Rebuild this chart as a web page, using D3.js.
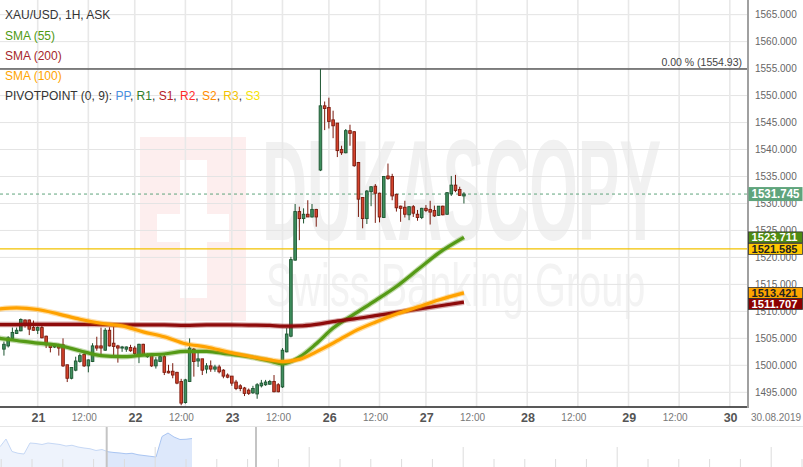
<!DOCTYPE html>
<html><head><meta charset="utf-8">
<script src="https://cdn.jsdelivr.net/npm/d3@7"></script>
<style>
html,body{margin:0;padding:0;background:#fff;}
svg{display:block;font-family:"Liberation Sans",Arial,sans-serif;}
</style></head>
<body><svg id="chart" width="803" height="467"></svg>
<script>
// hourly candles, first one is slot -8 (slot 0 = 21 Aug 00:00, 23 trading hours a day)
const firstSlot=-8;
const ohlc=[
  [1503.0,1504.4,1501.8,1503.9],[1503.6,1505.4,1503.3,1505.1],[1505.0,1507.0,1504.9,1506.1],[1505.9,1507.0,1505.8,1506.5],
  [1506.4,1508.7,1506.3,1508.5],[1508.4,1508.5,1507.0,1507.6],[1508.4,1508.5,1505.6,1506.7],[1507.0,1508.3,1506.4,1506.5],
  [1506.5,1507.2,1505.8,1507.0],[1507.0,1507.6,1505.0,1505.1],[1505.4,1505.5,1503.2,1503.8],[1503.9,1504.0,1502.4,1503.3],
  [1503.4,1504.0,1503.2,1503.8],[1503.8,1504.0,1501.8,1503.2],[1503.8,1505.0,1499.7,1499.9],[1500.1,1500.1,1496.9,1497.6],
  [1497.6,1499.6,1497.4,1499.6],[1499.1,1501.6,1498.9,1500.8],[1500.7,1502.2,1500.5,1501.8],[1502.0,1502.4,1499.7,1499.9],
  [1499.9,1501.1,1498.7,1501.0],[1500.7,1504.1,1500.6,1503.6],[1503.6,1505.3,1502.7,1503.2],[1503.6,1507.0,1501.6,1503.2],
  [1502.8,1506.9,1502.7,1506.5],[1506.5,1507.05,1503.5,1503.6],[1504.1,1507.2,1501.6,1503.5],[1503.6,1503.8,1500.5,1503.2],
  [1503.2,1503.6,1502.5,1503.4],[1503.0,1503.5,1502.5,1503.4],[1503.3,1503.8,1502.5,1502.7],[1503.2,1503.6,1501.6,1502.2],
  [1501.9,1504.0,1500.4,1503.9],[1503.9,1504.0,1501.9,1502.0],[1501.6,1502.2,1501.4,1502.0],[1501.9,1502.2,1499.7,1499.9],
  [1499.9,1501.5,1499.4,1501.0],[1500.7,1501.9,1500.6,1501.6],[1501.6,1501.9,1498.2,1498.7],[1498.9,1500.1,1498.5,1498.6],
  [1498.9,1500.4,1497.6,1498.2],[1498.7,1498.8,1496.5,1496.7],[1497.0,1497.5,1492.6,1493.0],[1493.1,1497.5,1492.9,1497.3],
  [1497.0,1505.0,1496.9,1503.2],[1503.0,1503.2,1497.9,1500.7],[1500.8,1502.8,1499.7,1501.2],[1501.2,1501.2,1498.2,1499.1],
  [1499.3,1500.4,1498.5,1499.9],[1499.9,1500.9,1498.8,1499.3],[1499.3,1500.1,1498.8,1499.7],[1499.7,1500.1,1498.5,1498.8],
  [1499.1,1499.3,1497.6,1498.0],[1498.2,1498.5,1497.6,1497.8],[1498.0,1498.0,1496.2,1496.7],[1496.9,1497.3,1495.4,1495.7],
  [1496.2,1496.5,1495.2,1495.7],[1495.8,1496.0,1494.3,1494.8],[1495.4,1495.7,1494.5,1494.8],[1494.9,1496.2,1494.7,1495.7],
  [1494.7,1496.7,1493.8,1496.4],[1496.2,1497.3,1495.9,1496.7],[1496.4,1497.3,1496.2,1496.9],[1496.5,1497.3,1496.4,1497.0],
  [1497.0,1498.2,1495.0,1495.1],[1496.4,1496.7,1495.0,1495.1],[1496.0,1503.2,1495.8,1502.8],[1502.5,1506.9,1502.4,1505.8],
  [1505.4,1520.1,1505.2,1519.6],[1519.5,1529.9,1519.4,1528.5],[1528.5,1529.4,1523.2,1527.2],[1527.2,1529.1,1526.3,1528.0],
  [1528.0,1530.6,1527.5,1527.5],[1527.5,1529.9,1527.4,1528.9],[1528.9,1529.0,1525.7,1527.5],[1536.2,1554.93,1536.0,1548.1],
  [1548.1,1548.9,1543.6,1547.6],[1547.8,1549.6,1543.9,1545.2],[1545.5,1547.2,1542.1,1544.4],[1544.9,1544.9,1538.6,1539.8],
  [1540.0,1540.7,1539.0,1539.4],[1539.4,1543.8,1539.3,1543.5],[1543.5,1544.6,1540.7,1543.0],[1543.3,1543.4,1536.8,1537.0],
  [1537.6,1537.7,1527.5,1530.8],[1531.1,1531.2,1525.4,1527.2],[1527.2,1532.5,1526.2,1532.3],[1532.2,1533.2,1529.5,1533.1],
  [1533.2,1533.6,1526.4,1531.9],[1531.9,1532.0,1526.5,1527.5],[1527.4,1535.1,1527.3,1535.0],[1535.1,1537.4,1534.4,1534.6],
  [1535.0,1535.5,1530.6,1531.4],[1531.7,1531.8,1528.5,1529.2],[1529.5,1529.6,1526.6,1529.1],[1529.3,1530.5,1527.4,1528.0],
  [1527.9,1529.5,1526.9,1529.4],[1529.4,1529.7,1527.5,1528.2],[1528.0,1528.8,1526.8,1527.4],[1527.4,1529.2,1527.1,1529.1],
  [1529.1,1529.7,1528.4,1528.7],[1528.9,1530.5,1526.1,1528.4],[1528.7,1529.6,1527.5,1527.7],[1527.8,1529.5,1527.7,1529.5],
  [1529.5,1529.6,1527.8,1527.9],[1528.0,1532.1,1527.9,1532.0],[1531.8,1535.1,1531.4,1533.4],[1533.4,1535.3,1532.1,1532.4],
  [1532.6,1533.1,1531.4,1531.5],[1531.4,1532.1,1530.0,1531.745]
];

// moving averages, read at these slots
const smaSlots=[-9,-5,0,5,10,15,20,25,30,35,40,45,50,55,58,62,66,70,75,80,85,90,95,101];
const sma55 =[1505.0,1504.6,1504.1,1503.7,1502.7,1501.8,1501.6,1501.9,1502.1,1502.6,1502.6,1502.1,1501.6,1500.8,1500.25,1501.5,1504.0,1506.9,1509.5,1512.0,1514.6,1517.7,1520.8,1523.711];
const sma200=[1507.55,1507.55,1507.6,1507.6,1507.6,1507.55,1507.5,1507.5,1507.5,1507.4,1507.5,1507.5,1507.45,1507.4,1507.25,1507.3,1507.6,1508.1,1508.6,1509.2,1509.8,1510.4,1511.0,1511.707];
const sma100=[1510.45,1510.65,1510.35,1509.5,1508.55,1507.8,1507.3,1506.2,1505.3,1504.0,1503.4,1502.5,1501.7,1501.0,1500.7,1501.1,1502.5,1504.1,1506.3,1508.0,1509.5,1510.8,1512.1,1513.421];

const dayLabels=["21","22","23","26","27","28","29","30"];
const daySlots=[0,23,46,69,92,116,140,164];
const hourSlots=[12,35,58,81,104,128,152];
const priceTicks=[1495,1500,1505,1510,1515,1520,1525,1530,1535,1540,1545,1550,1555,1560,1565];
const fibLevel=1554.93, pivotLevel=1521.585, lastPrice=1531.745;

// navigator overview (price-like values, evenly spaced)
const navValues=[1481,1512,1462,1455,1452,1496,1494,1490,1496,1493,1490,1484,1487,1480,1476,1473,1466,1470,1461,1458,1456,1453,1455,1449,1446,1443,1440,1522,1536,1520,1510,1511,1514];

const svg=d3.select("#chart");
const W=748,H=407;
const x=d3.scaleLinear().domain([0,164]).range([37.7,729.8]);
const y=d3.scaleLinear().domain([1495,1565]).range([392.3,14.65]);

svg.append("rect").attr("width",803).attr("height",467).attr("fill","#fff");
svg.append("clipPath").attr("id","plot").append("rect").attr("width",W).attr("height",H);
const plot=svg.append("g").attr("clip-path","url(#plot)");

// watermark (logo square with cross + name)
const wm=plot.append("g");
wm.append("rect").attr("x",140).attr("y",137).attr("width",106).attr("height",184).attr("fill","#fdeeee");
wm.append("rect").attr("x",180).attr("y",160).attr("width",27).attr("height",138).attr("fill","#fff");
wm.append("rect").attr("x",157).attr("y",214).attr("width",72).attr("height",28).attr("fill","#fff");
wm.append("text").attr("transform","translate(262,240) scale(0.44,1)").attr("font-size",142).attr("font-weight","bold")
  .attr("fill","#f1f1f1").text("DUKASCOPY");
wm.append("text").attr("transform","translate(266,306) scale(0.64,1)").attr("font-size",62)
  .attr("fill","#f3f3f3").text("Swiss Banking Group");

// grid
plot.append("g").selectAll("line").data(priceTicks).join("line")
  .attr("x1",0).attr("x2",W).attr("y1",d=>y(d)).attr("y2",d=>y(d)).attr("stroke","#e4e4e4");
plot.append("g").selectAll("line").data(daySlots.concat(hourSlots)).join("line")
  .attr("y1",0).attr("y2",H).attr("x1",d=>x(d)).attr("x2",d=>x(d)).attr("stroke","#e8e8e8").attr("stroke-width",1.6);

// levels
plot.append("line").attr("x1",0).attr("x2",W).attr("y1",y(fibLevel)).attr("y2",y(fibLevel)).attr("stroke","#111").attr("stroke-width",1.2);
plot.append("line").attr("x1",0).attr("x2",W).attr("y1",y(pivotLevel)).attr("y2",y(pivotLevel)).attr("stroke","#f2c200").attr("stroke-width",1.2);
plot.append("line").attr("x1",0).attr("x2",W).attr("y1",y(lastPrice)).attr("y2",y(lastPrice))
  .attr("stroke","#5fa47c").attr("stroke-dasharray","3,3");
plot.append("text").attr("x",742).attr("y",y(fibLevel)-3).attr("text-anchor","end")
  .attr("font-size",10.5).attr("fill","#444").text(`0.00 % (${fibLevel})`);

// candles
const candles=ohlc.map((d,i)=>({slot:firstSlot+i,o:d[0],h:d[1],l:d[2],c:d[3]}));
const up=d=>d.c>=d.o;
const cg=plot.append("g");
cg.selectAll("line").data(candles).join("line")
  .attr("x1",d=>x(d.slot)).attr("x2",d=>x(d.slot)).attr("y1",d=>y(d.h)).attr("y2",d=>y(d.l))
  .attr("stroke",d=>up(d)?"#1d5531":"#7a1a0e").attr("stroke-width",1);
cg.selectAll("rect").data(candles).join("rect")
  .attr("x",d=>x(d.slot)-1.3).attr("width",2.6)
  .attr("y",d=>y(Math.max(d.o,d.c))).attr("height",d=>Math.max(1,Math.abs(y(d.o)-y(d.c))))
  .attr("fill",d=>up(d)?"#3f8f5e":"#d5432c").attr("stroke",d=>up(d)?"#1d5531":"#7a1a0e").attr("stroke-width",0.9);

// SMAs
const smaLine=vals=>d3.line().curve(d3.curveMonotoneX).x((d,i)=>x(smaSlots[i])).y(d=>y(d))(vals);
[[sma55,"#559a16"],[sma200,"#8e0b0b"],[sma100,"#ffa200"]].forEach(([v,col])=>{
  plot.append("path").attr("d",smaLine(v)).attr("fill","none").attr("stroke",col).attr("stroke-opacity",0.35).attr("stroke-width",5.5);
  plot.append("path").attr("d",smaLine(v)).attr("fill","none").attr("stroke",col).attr("stroke-width",3.2);
});

// legend
const leg=svg.append("g").attr("font-size",12);
leg.append("text").attr("x",5).attr("y",19).attr("fill","#333").text("XAU/USD, 1H, ASK");
leg.append("text").attr("x",5).attr("y",40).attr("fill","#4f9a12").text("SMA (55)");
leg.append("text").attr("x",5).attr("y",60).attr("fill","#a5282a").text("SMA (200)");
leg.append("text").attr("x",5).attr("y",80).attr("fill","#ffa500").text("SMA (100)");
const pv=leg.append("text").attr("x",5).attr("y",100).attr("fill","#333");
pv.append("tspan").text("PIVOTPOINT (0, 9): ");
[["PP","#4a8fe0"],["R1","#2f7d2a"],["S1","#b52025"],["R2","#ff2a2a"],["S2","#ff8c00"],["R3","#f2c200"],["S3","#f7e300"]].forEach(([t,c],i)=>{
  pv.append("tspan").attr("fill",c).text(t);
  if(i<6) pv.append("tspan").attr("fill","#333").text(", ");
});

// axes
svg.append("line").attr("x1",0).attr("x2",W).attr("y1",H).attr("y2",H).attr("stroke","#222").attr("stroke-width",1.6);
svg.append("line").attr("x1",W).attr("x2",W).attr("y1",0).attr("y2",H+1).attr("stroke","#a0a0a0").attr("stroke-width",2);
svg.append("g").selectAll("text").data(priceTicks).join("text")
  .attr("x",755).attr("y",d=>y(d)+3.5).attr("font-size",10).attr("fill","#666").text(d=>d.toFixed(3));

const xa=svg.append("g");
xa.selectAll(".day").data(daySlots).join("text")
  .attr("x",d=>x(d)+0.8).attr("y",422).attr("text-anchor","middle").attr("font-size",12.5).attr("font-weight","bold")
  .attr("fill","#555").text((d,i)=>dayLabels[i]);
xa.selectAll(".hr").data(hourSlots).join("text")
  .attr("x",d=>x(d)-4).attr("y",421).attr("text-anchor","middle").attr("font-size",10).attr("fill","#777").text("12:00");
xa.append("text").attr("x",751).attr("y",421).attr("font-size",10).attr("fill","#777").text("30.08.2019");

// price boxes on the right axis
const last=a=>a[a.length-1];
const boxes=[
  {v:lastPrice,fill:"#5fa47c",tc:"#fff",fs:12,h:14},
  {v:last(sma55),fill:"#4f8c12",tc:"#fff",fs:11,h:11},
  {v:pivotLevel,fill:"#ffc800",tc:"#222",fs:11,h:11},
  {v:last(sma100),fill:"#ffa500",tc:"#222",fs:11,h:11},
  {v:last(sma200),fill:"#8b0000",tc:"#fff",fs:11,h:11}
];
boxes.forEach(b=>b.cy=y(b.v));
// push apart boxes that would overlap
const sorted=boxes.slice().sort((a,b)=>a.cy-b.cy);
for(let i=1;i<sorted.length;i++){
  const p=sorted[i-1],c=sorted[i],gap=(p.h+c.h)/2;
  if(c.cy-p.cy<gap) c.cy=p.cy+gap;
}
const bg=svg.append("g");
boxes.forEach(b=>{
  bg.append("rect").attr("x",748.5).attr("y",b.cy-b.h/2).attr("width",54).attr("height",b.h)
    .attr("fill",b.fill).attr("stroke",b.h>12?"none":"#333").attr("stroke-width",0.8);
  bg.append("text").attr("x",751.5).attr("y",b.cy+b.fs*0.36).attr("font-size",b.fs).attr("font-weight","bold")
    .attr("textLength",b.h>12?48:46).attr("lengthAdjust","spacingAndGlyphs")
    .attr("fill",b.tc).text(b.v.toFixed(3));
});

// navigator
const nav=svg.append("g");
nav.append("line").attr("x1",0).attr("x2",803).attr("y1",426.5).attr("y2",426.5).attr("stroke","#e6e6e6");
const nx=d3.scaleLinear().domain([0,navValues.length-1]).range([0,192]);
const ny=d3.scaleLinear().domain([1400,1560]).range([467,427]);
const area=d3.area().x((d,i)=>nx(i)).y0(467).y1(d=>ny(d));
const line=d3.line().x((d,i)=>nx(i)).y(d=>ny(d));
nav.append("clipPath").attr("id","navL").append("rect").attr("x",0).attr("y",420).attr("width",107).attr("height",50);
nav.append("clipPath").attr("id","navR").append("rect").attr("x",107).attr("y",420).attr("width",200).attr("height",50);
nav.append("path").attr("d",area(navValues)).attr("fill","#eef3fc").attr("clip-path","url(#navL)");
nav.append("path").attr("d",line(navValues)).attr("fill","none").attr("stroke","#c6d8f5").attr("clip-path","url(#navL)");
nav.append("path").attr("d",area(navValues)).attr("fill","#dde8fb").attr("clip-path","url(#navR)");
nav.append("path").attr("d",line(navValues)).attr("fill","none").attr("stroke","#a9c5f2").attr("clip-path","url(#navR)");
nav.selectAll(".nt").data(d3.range(0,27)).join("line")
  .attr("x1",k=>1.2+30.8*k).attr("x2",k=>1.2+30.8*k).attr("y1",k=>k%5===0&&k>0?447:459).attr("y2",467)
  .attr("stroke","#dcdcdc");
[106.7,256].forEach(hx=>nav.append("line").attr("x1",hx).attr("x2",hx).attr("y1",427).attr("y2",467).attr("stroke","#c4c4c4").attr("stroke-width",2));
</script></body></html>
